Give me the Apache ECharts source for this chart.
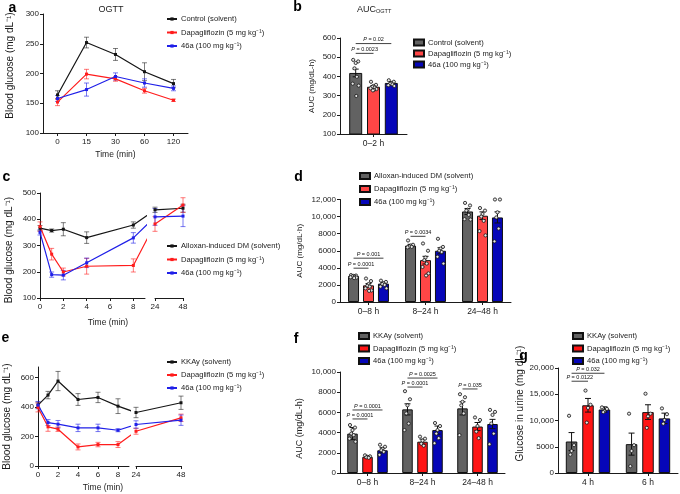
<!DOCTYPE html>
<html><head><meta charset="utf-8">
<script src="https://cdn.jsdelivr.net/npm/echarts@6/dist/echarts.min.js"></script>
<style>html,body{margin:0;padding:0;background:#fff}#c{width:680px;height:494px}</style>
</head><body><div id="c"></div>
<script>
// ================= DATA =================
// Panel a — OGTT
const aTimeLabels = ['0', '15', '30', '60', '120'];
const aControl    = [164, 252, 232, 203, 183];
const aControlErr = [7, 9, 10, 15, 7];
const aDapa       = [152, 199, 191, 171, 155];
const aDapaErr    = [6, 8, 4, 4, 2];
const a46a        = [158, 173, 195, 184, 175];
const a46aErr     = [5, 11, 6, 7, 4];

// Panel b — AUC OGTT
const bCats = ['0–2 h'];
const bControl = [418], bControlErr = [20];
const bDapa    = [346], bDapaErr    = [6];
const b46a     = [366], b46aErr     = [7];
const bControlDots = [[486, 478, 470, 442, 398, 362, 352, 298]];
const bDapaDots    = [[372, 356, 350, 346, 342, 338, 334, 330, 327]];
const b46aDots     = [[380, 372, 366, 362, 358, 354, 350]];

// Panel c — Alloxan-induced DM time course (hours)
const cHours      = [0, 1, 2, 4, 8, 24, 48];
const cControl    = [366, 357, 362, 330, 378, 436, 442];
const cControlErr = [10, 6, 25, 22, 12, 10, 15];
const cDapa       = [372, 267, 199, 221, 224, 382, 454];
const cDapaErr    = [18, 22, 15, 30, 25, 28, 28];
const c46a        = [350, 189, 187, 234, 329, 409, 412];
const c46aErr     = [10, 10, 18, 18, 20, 32, 40];

// Panel d — AUC alloxan
const dCats = ['0–8 h', '8–24 h', '24–48 h'];
const dControl = [3050, 6600, 10600], dControlErr = [100, 150, 350];
const dDapa    = [1950, 4900, 10100], dDapaErr    = [200, 450, 450];
const d46a     = [2150, 6000, 9900],  d46aErr     = [150, 350, 650];
const dControlDots = [[3150, 3100, 3050, 3000, 2950, 2900, 2850, 2800], [7200, 6700, 6600, 6500, 6450, 6400], [11600, 11300, 10800, 10700, 10200, 9700, 9650]];
const dDapaDots    = [[2750, 2450, 2100, 1900, 1800, 1600, 1350, 1300], [6850, 6000, 5200, 4900, 4500, 4100, 3350, 3100], [11000, 10700, 10300, 10000, 9500, 8300, 7800]];
const d46aDots     = [[2500, 2350, 2200, 2100, 2000, 1800, 1600], [7400, 6450, 6250, 6000, 5850, 5300, 4500], [12000, 12000, 10500, 9900, 8600, 7100]];

// Panel e — KKAy time course (hours)
const eHours      = [0, 1, 2, 4, 6, 8, 24, 48];
const eControl    = [412, 480, 575, 450, 464, 405, 362, 428];
const eControlErr = [20, 25, 65, 40, 35, 50, 35, 45];
const eDapa       = [396, 265, 249, 129, 145, 145, 235, 326];
const eDapaErr    = [30, 30, 15, 20, 15, 20, 20, 25];
const e46a        = [412, 294, 283, 258, 258, 242, 281, 310];
const e46aErr     = [25, 20, 25, 25, 25, 10, 25, 35];

// Panel f — AUC KKAy
const fCats = ['0–8 h', '8–24 h', '24–48 h'];
const fControl = [3900, 6300, 6400], fControlErr = [600, 550, 650];
const fDapa    = [1600, 3100, 4600], fDapaErr    = [120, 250, 400];
const f46a     = [2250, 4250, 4850], f46aErr     = [250, 400, 460];
const fControlDots = [[4750, 4500, 4250, 3900, 3750, 3400, 3100], [8100, 7300, 6700, 5900, 4900, 4250], [7800, 7500, 7050, 6700, 5900, 3750]];
const fDapaDots    = [[1750, 1650, 1600, 1550, 1500], [3600, 3400, 3200, 2900, 2700], [5500, 5250, 4650, 4100, 3450]];
const f46aDots     = [[2800, 2600, 2400, 2250, 2100, 1800], [4950, 4650, 4250, 3900, 3450, 2950], [6250, 6050, 5750, 4900, 3900, 2850]];

// Panel g — glucose in urine
const gCats = ['4 h', '6 h'];
const gControl = [6000, 5500],  gControlErr = [1700, 2100];
const gDapa    = [12900, 11600], gDapaErr   = [1300, 1400];
const g46a     = [12100, 10400], g46aErr    = [500, 1000];
const gControlDots = [[10900, 5300, 4200, 3500], [11300, 5300, 4200, 1300]];
const gDapaDots    = [[15700, 13000, 12400, 9600], [15100, 11300, 10800, 8600]];
const g46aDots     = [[12500, 12200, 11800, 11600], [12300, 11200, 10100, 9400]];

// Significance annotations: [category, fromBar, toBar, yValue]
const bSig = [[0, 0, 2, 571], [0, 0, 1, 520]];
const bSigText = ['P = 0.02', 'P = 0.0023'];
const dSig = [[0, 0, 2, 5130], [0, 0, 1, 3960], [1, 0, 1, 7690]];
const dSigText = ['P = 0.001', 'P = 0.0001', 'P = 0.0034'];
const fSig = [[0, 0, 2, 6240], [0, 0, 1, 5350], [1, 0, 2, 9400], [1, 0, 1, 8510], [2, 0, 1, 8320]];
const fSigText = ['P = 0.0001', 'P = 0.0001', 'P = 0.0025', 'P = 0.0001', 'P = 0.035'];
const gSig = [[0, 0, 2, 19000], [0, 0, 1, 17480]];
const gSigText = ['P = 0.032', 'P = 0.0122'];

// Legend names
const N_CTRL = 'Control (solvent)';
const N_DAPA = 'Dapagliflozin (5 mg kg⁻¹)';
const N_46A  = '46a (100 mg kg⁻¹)';
const N_ALLO = 'Alloxan-induced DM (solvent)';
const N_KKAY = 'KKAy (solvent)';

// ================= STYLE =================
const FONT = '"Liberation Sans", Arial, Helvetica, sans-serif';
const INK = '#1b1b1b';
const L_BLACK = '#151515', L_RED = '#ff1c1c', L_BLUE = '#2020e8';
const E_BLACK = 'rgba(20,20,20,0.55)', E_RED = 'rgba(255,30,30,0.6)', E_BLUE = 'rgba(32,32,232,0.6)';
const BAR_GRAY = '#626262', BAR_RED_L = '#ff4646', BAR_BLUE = '#0606b8', BAR_RED = '#ff1414';
const JITTER = [-2.5, 2.5, 0, -1.2, 1.2, -3, 3, 0.6, -0.6];

// ================= HELPERS =================
function barOffset(i, L) {
  const gapPx = L.gap * L.bw;
  const total = L.n * L.bw + (L.n - 1) * gapPx;
  return -total / 2 + i * (L.bw + gapPx) + L.bw / 2;
}
function brokenSplit(hours, vals, segEnd, breakPos) {
  const s1 = [], s2 = []; let bridged = false;
  hours.forEach((h, i) => {
    if (h <= segEnd) s1.push([h, vals[i]]);
    else { if (!bridged) { s1.push([breakPos, vals[i]]); bridged = true; } s2.push([h, vals[i]]); }
  });
  return [s1, s2];
}
function errRows(xs, vals, errs, filter) {
  const r = [];
  xs.forEach((x, i) => { if (!filter || filter(x)) r.push([x, vals[i] - errs[i], vals[i] + errs[i]]); });
  return r;
}
function lineSeries(name, data, color, gi) {
  return { type: 'line', name, xAxisIndex: gi, yAxisIndex: gi, data, symbol: 'rect', symbolSize: 3,
    lineStyle: { color, width: 1.2 }, itemStyle: { color }, clip: true, z: 4, silent: true };
}
function errSeries(rows, gi, color, cap, L, barIdx, lw) {
  return { type: 'custom', xAxisIndex: gi, yAxisIndex: gi, data: rows, silent: true, z: 3,
    renderItem(params, api) {
      const x = api.value(0);
      const lo = api.coord([x, api.value(1)]), hi = api.coord([x, api.value(2)]);
      const cx = lo[0] + (L ? barOffset(barIdx, L) : 0);
      const st = { stroke: color, lineWidth: lw || 1 };
      return { type: 'group', children: [
        { type: 'line', shape: { x1: cx, y1: lo[1], x2: cx, y2: hi[1] }, style: st },
        { type: 'line', shape: { x1: cx - cap, y1: lo[1], x2: cx + cap, y2: lo[1] }, style: st },
        { type: 'line', shape: { x1: cx - cap, y1: hi[1], x2: cx + cap, y2: hi[1] }, style: st }
      ] };
    } };
}
function barSeries(name, vals, color, gi, L) {
  return { type: 'bar', name, xAxisIndex: gi, yAxisIndex: gi, data: vals, barWidth: L.bw,
    barGap: (L.gap * 100) + '%', itemStyle: { color, borderColor: '#111', borderWidth: 1 }, z: 2, silent: true };
}
function dotSeries(perCat, gi, L, barIdx) {
  const rows = [];
  perCat.forEach((arr, c) => arr.forEach((v, k) => rows.push([c, v, k])));
  return { type: 'custom', xAxisIndex: gi, yAxisIndex: gi, data: rows, silent: true, z: 5,
    renderItem(params, api) {
      const p = api.coord([api.value(0), api.value(1)]);
      const x = p[0] + barOffset(barIdx, L) + JITTER[api.value(2) % JITTER.length];
      return { type: 'circle', shape: { cx: x, cy: p[1], r: 1.6 }, style: { fill: '#e6e6e6', stroke: '#111', lineWidth: 0.8 } };
    } };
}
function sigSeries(rows, texts, gi, L) {
  return { type: 'custom', xAxisIndex: gi, yAxisIndex: gi, data: rows, silent: true, z: 6,
    renderItem(params, api) {
      const p = api.coord([api.value(0), api.value(3)]);
      const x0 = p[0] + barOffset(api.value(1), L), x1 = p[0] + barOffset(api.value(2), L);
      const t = texts[params.dataIndex].replace(/^P/, '{i|P}');
      return { type: 'group', children: [
        { type: 'line', shape: { x1: x0, y1: p[1], x2: x1, y2: p[1] }, style: { stroke: '#111', lineWidth: 0.8 } },
        { type: 'text', x: (x0 + x1) / 2, y: p[1] - 0.8, style: { text: t, align: 'center', verticalAlign: 'bottom',
          fontSize: 5.5, fontFamily: FONT, fill: '#111', rich: { i: { fontStyle: 'italic', fontSize: 5.5, fontFamily: FONT } } } }
      ] };
    } };
}
function vAxis(gi, min, max, interval, name, gap, nameSize, namePad, extra) {
  return Object.assign({ type: 'value', gridIndex: gi, min, max, interval,
    axisLine: { show: true, lineStyle: { color: INK, width: 1 } },
    axisTick: { show: true, length: 3, lineStyle: { color: INK } },
    axisLabel: { fontSize: 8, color: INK, fontFamily: FONT, margin: 4,
      formatter: v => v >= 10000 ? v.toLocaleString('en-US') : String(v) },
    splitLine: { show: false },
    name, nameLocation: 'middle', nameGap: gap, nameRotate: 90,
    nameTextStyle: { fontSize: nameSize, color: INK, fontFamily: FONT, padding: namePad || 0 }
  }, extra || {});
}
function cAxis(gi, data, extra) {
  return Object.assign({ type: 'category', gridIndex: gi, data, boundaryGap: true,
    axisLine: { show: true, lineStyle: { color: INK, width: 1 } },
    axisTick: { show: true, alignWithLabel: true, length: 3, lineStyle: { color: INK } },
    axisLabel: { fontSize: 8.5, color: INK, fontFamily: FONT, margin: 5 },
    splitLine: { show: false } }, extra || {});
}
function hAxis(gi, min, max, interval, showMax) {
  return { type: 'value', gridIndex: gi, min, max, interval,
    axisLine: { show: true, lineStyle: { color: INK, width: 1 } },
    axisTick: { show: true, length: 3, lineStyle: { color: INK } },
    axisLabel: { fontSize: 8, color: INK, fontFamily: FONT, margin: 5, showMaxLabel: showMax, showMinLabel: true },
    splitLine: { show: false } };
}
function legendCfg(prefix, names, left, top, gap, isBar) {
  return { data: names.map(n => prefix + '|' + n), left, top, orient: 'vertical', itemGap: gap, padding: 0,
    itemWidth: 10, itemHeight: isBar ? 6 : 4, icon: isBar ? 'rect' : undefined, selectedMode: false,
    formatter: n => n.split('|')[1],
    textStyle: { fontSize: 7.6, color: INK, fontFamily: FONT, padding: [0, 0, 0, -1] } };
}

// ================= LAYOUT =================
const LB = { n: 3, bw: 13, gap: 0.37 };
const LD = { n: 3, bw: 11, gap: 0.36 };
const LF = { n: 3, bw: 10.5, gap: 0.43 };
const LG = { n: 3, bw: 11.5, gap: 0.43 };
const C_SEG_END = 9, C_BREAK = 9.86;
const E_SEG_END = 9.1, E_BREAK = 9.8;

const grids = [
  { left: 43, top: 14, width: 145, height: 119 },      // 0 a
  { left: 340, top: 38, width: 67, height: 96 },       // 1 b
  { left: 40, top: 193, width: 105, height: 105 },     // 2 c seg1
  { left: 155, top: 193, width: 28, height: 105 },     // 3 c seg2
  { left: 340, top: 199.5, width: 171, height: 102.5 },// 4 d
  { left: 38, top: 367, width: 91, height: 99 },       // 5 e seg1
  { left: 136, top: 367, width: 45, height: 99 },      // 6 e seg2
  { left: 340, top: 372, width: 165, height: 101 },    // 7 f
  { left: 558, top: 368, width: 120, height: 105 }     // 8 g
];

const BG = 'Blood glucose (mg dL⁻¹)';
const xAxes = [
  cAxis(0, aTimeLabels, { name: 'Time (min)', nameLocation: 'middle', nameGap: 17,
    axisLabel: { fontSize: 8, color: INK, fontFamily: FONT, margin: 5 },
    nameTextStyle: { fontSize: 8.5, color: INK, fontFamily: FONT } }),
  cAxis(1, bCats),
  hAxis(2, 0, C_SEG_END, 2, false),
  hAxis(3, 24, 48, 24, true),
  cAxis(4, dCats),
  hAxis(5, 0, E_SEG_END, 2, false),
  hAxis(6, 24, 48, 24, true),
  cAxis(7, fCats),
  cAxis(8, gCats)
];
const yAxes = [
  vAxis(0, 100, 300, 50, BG, 27.5, 10, [0, 0, 0, 16]),
  vAxis(1, 100, 600, 100, 'AUC (mg/dL-h)', 24, 8),
  vAxis(2, 100, 500, 100, BG, 26, 10, [0, 9, 0, 0]),
  vAxis(3, 100, 500, 100, '', 0, 8, 0, { show: false }),
  vAxis(4, 0, 12000, 2000, 'AUC (mg/dL·h)', 36, 8),
  vAxis(5, 0, 670, 200, BG, 25.5, 10, 0, { axisLabel: { fontSize: 8, color: INK, fontFamily: FONT, margin: 4, showMaxLabel: false } }),
  vAxis(6, 0, 670, 200, '', 0, 8, 0, { show: false }),
  vAxis(7, 0, 10000, 2000, 'AUC (mg/dL-h)', 35.5, 9, [0, 12, 0, 0]),
  vAxis(8, 0, 20000, 5000, 'Glucose in urine (mg dL⁻¹)', 28, 10, [0, 0, 0, 34])
];

// ================= SERIES =================
const series = [];
const aIdx = aTimeLabels.map((_, i) => i);
[[N_CTRL, aControl, aControlErr, L_BLACK, E_BLACK], [N_DAPA, aDapa, aDapaErr, L_RED, E_RED], [N_46A, a46a, a46aErr, L_BLUE, E_BLUE]]
  .forEach(([n, v, e, c, ec]) => {
    series.push(errSeries(errRows(aIdx, v, e), 0, ec, 2.5));
    series.push(lineSeries('a|' + n, aIdx.map((x, i) => [x, v[i]]), c, 0));
  });
function brokenPanel(prefix, hours, sets, g1, g2, segEnd, brk) {
  sets.forEach(([n, v, e, c, ec]) => {
    const [s1, s2] = brokenSplit(hours, v, segEnd, brk);
    series.push(errSeries(errRows(hours, v, e, h => h <= segEnd), g1, ec, 2.5));
    series.push(errSeries(errRows(hours, v, e, h => h > segEnd), g2, ec, 2.5));
    series.push(lineSeries(prefix + '|' + n, s1, c, g1));
    series.push(lineSeries(prefix + '2|' + n, s2, c, g2));
  });
}
brokenPanel('c', cHours, [[N_ALLO, cControl, cControlErr, L_BLACK, E_BLACK], [N_DAPA, cDapa, cDapaErr, L_RED, E_RED], [N_46A, c46a, c46aErr, L_BLUE, E_BLUE]], 2, 3, C_SEG_END, C_BREAK);
brokenPanel('e', eHours, [[N_KKAY, eControl, eControlErr, L_BLACK, E_BLACK], [N_DAPA, eDapa, eDapaErr, L_RED, E_RED], [N_46A, e46a, e46aErr, L_BLUE, E_BLUE]], 5, 6, E_SEG_END, E_BREAK);

function barPanel(prefix, gi, L, sets, sig, sigText) {
  sets.forEach(([n, v, e, dots, color]) => series.push(barSeries(prefix + '|' + n, v, color, gi, L)));
  sets.forEach(([n, v, e, dots, color], i) => {
    series.push(errSeries(errRows(v.map((_, k) => k), v, e), gi, '#111', 3, L, i, 1));
    series.push(dotSeries(dots, gi, L, i));
  });
  series.push(sigSeries(sig, sigText, gi, L));
}
barPanel('b', 1, LB, [[N_CTRL, bControl, bControlErr, bControlDots, BAR_GRAY], [N_DAPA, bDapa, bDapaErr, bDapaDots, BAR_RED_L], [N_46A, b46a, b46aErr, b46aDots, BAR_BLUE]], bSig, bSigText);
barPanel('d', 4, LD, [[N_ALLO, dControl, dControlErr, dControlDots, BAR_GRAY], [N_DAPA, dDapa, dDapaErr, dDapaDots, BAR_RED_L], [N_46A, d46a, d46aErr, d46aDots, BAR_BLUE]], dSig, dSigText);
barPanel('f', 7, LF, [[N_KKAY, fControl, fControlErr, fControlDots, BAR_GRAY], [N_DAPA, fDapa, fDapaErr, fDapaDots, BAR_RED], [N_46A, f46a, f46aErr, f46aDots, BAR_BLUE]], fSig, fSigText);
barPanel('g', 8, LG, [[N_KKAY, gControl, gControlErr, gControlDots, BAR_GRAY], [N_DAPA, gDapa, gDapaErr, gDapaDots, BAR_RED], [N_46A, g46a, g46aErr, g46aDots, BAR_BLUE]], gSig, gSigText);

// ================= TEXT =================
function letter(t, x, y) {
  return { type: 'text', x, y, style: { text: t, fontSize: 14, fontWeight: 'bold', fontFamily: FONT, fill: '#000', align: 'center', verticalAlign: 'middle' } };
}
function label(t, x, y, size, rich, align) {
  return { type: 'text', x, y, style: { text: t, fontSize: size, fontFamily: FONT, fill: INK, align: align || 'center', verticalAlign: 'middle', rich } };
}
const graphics = [
  letter('a', 12.5, 8), letter('b', 297.5, 7), letter('c', 6.5, 177), letter('d', 298.5, 177),
  letter('e', 5.5, 338), letter('f', 296, 339), letter('g', 523.5, 356),
  label('OGTT', 111, 10, 9),
  label('AUC{s|OGTT}', 357, 10, 9, { s: { fontSize: 5.5, verticalAlign: 'bottom', fontFamily: FONT, fill: INK } }, 'left'),
  label('Time (min)', 108, 323, 8.5),
  label('Time (min)', 103, 488, 8.5)
];

const option = {
  animation: false,
  backgroundColor: '#fff',
  textStyle: { fontFamily: FONT },
  grid: grids,
  xAxis: xAxes,
  yAxis: yAxes,
  legend: [
    legendCfg('a', [N_CTRL, N_DAPA, N_46A], 166, 15, 5.5, false),
    legendCfg('b', [N_CTRL, N_DAPA, N_46A], 413, 38.5, 3, true),
    legendCfg('c', [N_ALLO, N_DAPA, N_46A], 166, 242, 5.5, false),
    legendCfg('d', [N_ALLO, N_DAPA, N_46A], 359, 172, 5, true),
    legendCfg('e', [N_KKAY, N_DAPA, N_46A], 166, 358, 5, false),
    legendCfg('f', [N_KKAY, N_DAPA, N_46A], 358, 332, 4.5, true),
    legendCfg('g', [N_KKAY, N_DAPA, N_46A], 572, 332, 4.5, true)
  ],
  graphic: graphics,
  series
};
const chart = echarts.init(document.getElementById('c'), null, { renderer: 'canvas', width: 680, height: 494 });
chart.setOption(option);
</script></body></html>
